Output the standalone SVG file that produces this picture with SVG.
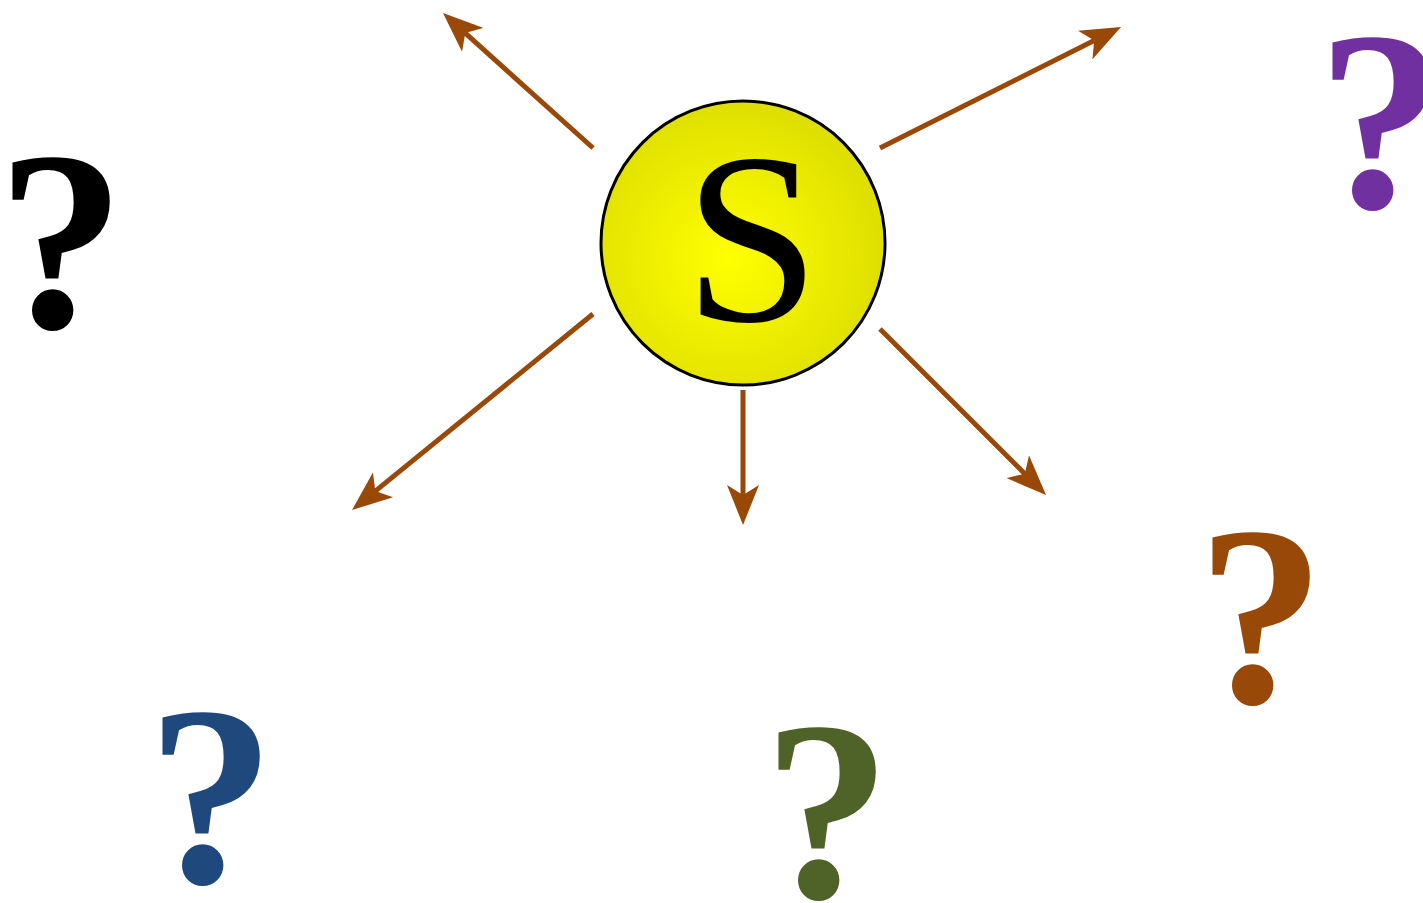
<svg xmlns="http://www.w3.org/2000/svg" width="1423" height="903" viewBox="0 0 1423 903">
<style>
.arr{stroke:#984807;stroke-width:5;fill:none;marker-end:url(#ah)}
</style>
<defs>
<radialGradient id="g" cx="0.45" cy="0.55" r="0.6">
<stop offset="0" stop-color="#ffff00"/>
<stop offset="1" stop-color="#dcdc00"/>
</radialGradient>
<marker id="ah" viewBox="0 -16 40 32" refX="10" refY="0" markerWidth="40" markerHeight="32" markerUnits="userSpaceOnUse" orient="auto">
<path d="M0,-16 L40,0 L0,16 L10,0 Z" fill="#984807"/>
</marker>
</defs>
<rect width="1423" height="903" fill="#fff"/>
<g id="connectors">
<line class="arr" x1="593" y1="148" x2="465.3" y2="33.1"/>
<line class="arr" x1="880" y1="148" x2="1094.2" y2="40.5"/>
<line class="arr" x1="593" y1="314" x2="375.3" y2="491.1"/>
<line class="arr" x1="743" y1="390" x2="743" y2="495"/>
<line class="arr" x1="880" y1="329" x2="1024.8" y2="473.8"/>
</g>
<g id="sun">
<circle cx="743" cy="243" r="142" fill="url(#g)" stroke="#000" stroke-width="3"/>
<text x="684" y="321" font-family="Liberation Serif" font-size="244" fill="#000">S</text>
</g>
<g id="q-black"><text x="-3" y="327" font-family="Liberation Serif" font-size="256" font-weight="bold" fill="#000">?</text></g>
<g id="q-purple"><text x="1317" y="207" font-family="Liberation Serif" font-size="256" font-weight="bold" fill="#7030a0">?</text></g>
<g id="q-brown"><text x="1197" y="702" font-family="Liberation Serif" font-size="256" font-weight="bold" fill="#984807">?</text></g>
<g id="q-blue"><text x="147" y="882" font-family="Liberation Serif" font-size="256" font-weight="bold" fill="#1f497d">?</text></g>
<g id="q-green"><text x="763" y="897" font-family="Liberation Serif" font-size="256" font-weight="bold" fill="#4f6228">?</text></g>
</svg>
